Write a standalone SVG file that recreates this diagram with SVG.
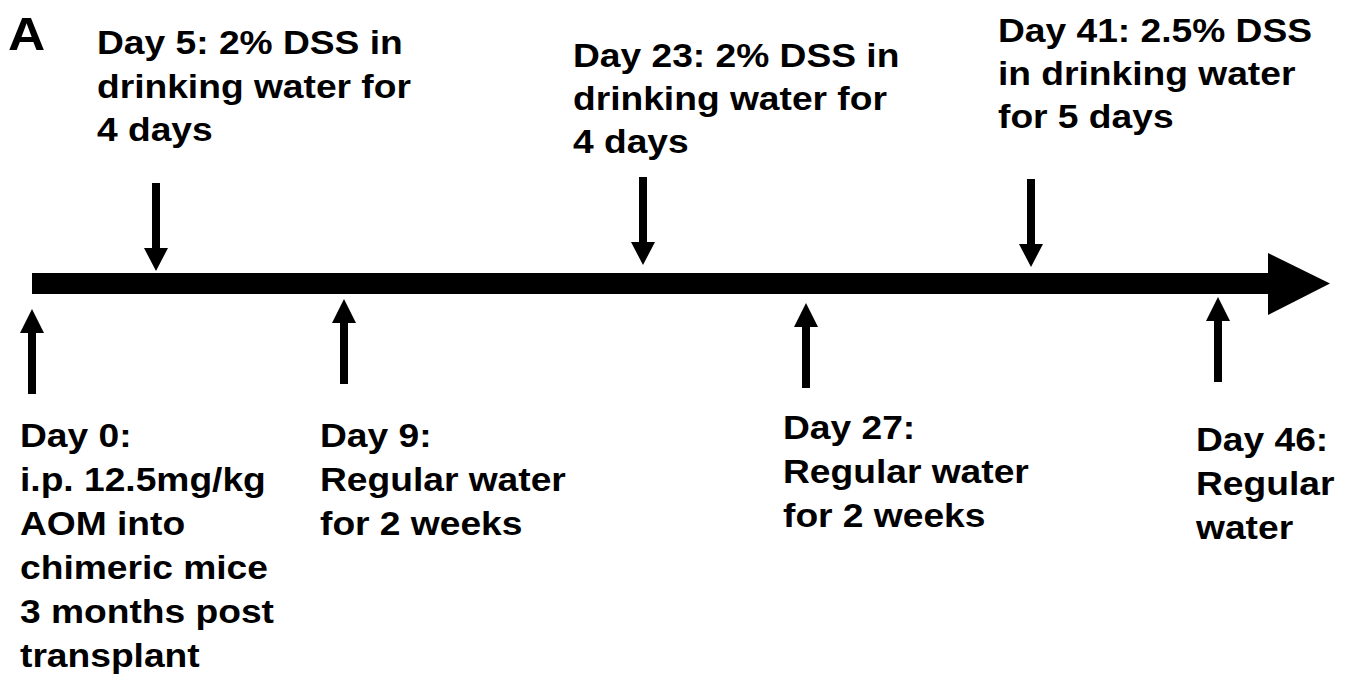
<svg xmlns="http://www.w3.org/2000/svg" width="1353" height="682" viewBox="0 0 1353 682">
<style>
text{font-family:"Liberation Sans",Arial,sans-serif;font-weight:bold;font-size:33.5px;fill:#000}
.lbl{font-size:46px}
</style>
<defs>
<path id="dn" d="M-4,0 H4 V65 H12 L0,88 L-12,65 H-4 Z"/>
<path id="up" d="M0,0 L12,24 H4 V85 H-4 V24 H-12 Z"/>
</defs>
<rect width="1353" height="682" fill="#fff"/>
<text class="lbl" transform="translate(8 0) scale(1.12 1)" x="0" y="50">A</text>
<g id="connectors" fill="#000">
<rect x="32" y="273" width="1238" height="21"/>
<polygon points="1268,253 1330,283.5 1268,315"/>
<use href="#dn" x="156" y="183"/>
<use href="#dn" x="643" y="177"/>
<use href="#dn" x="1031" y="179"/>
<use href="#up" x="32" y="309"/>
<use href="#up" x="344" y="299"/>
<use href="#up" x="806" y="303"/>
<use href="#up" x="1218" y="297"/>
</g>
<g id="day5"><text transform="translate(97 0) scale(1.11 1)"><tspan x="0" y="54">Day 5: 2% DSS in</tspan><tspan x="0" y="98">drinking water for</tspan><tspan x="0" y="141">4 days</tspan></text></g>
<g id="day23"><text transform="translate(573 0) scale(1.11 1)"><tspan x="0" y="67">Day 23: 2% DSS in</tspan><tspan x="0" y="110">drinking water for</tspan><tspan x="0" y="153">4 days</tspan></text></g>
<g id="day41"><text transform="translate(998 0) scale(1.11 1)"><tspan x="0" y="42">Day 41: 2.5% DSS</tspan><tspan x="0" y="85">in drinking water</tspan><tspan x="0" y="128">for 5 days</tspan></text></g>
<g id="day0"><text transform="translate(20 0) scale(1.11 1)"><tspan x="0" y="447">Day 0:</tspan><tspan x="0" y="491">i.p. 12.5mg/kg</tspan><tspan x="0" y="535">AOM into</tspan><tspan x="0" y="579">chimeric mice</tspan><tspan x="0" y="623">3 months post</tspan><tspan x="0" y="667">transplant</tspan></text></g>
<g id="day9"><text transform="translate(320 0) scale(1.11 1)"><tspan x="0" y="447">Day 9:</tspan><tspan x="0" y="491">Regular water</tspan><tspan x="0" y="535">for 2 weeks</tspan></text></g>
<g id="day27"><text transform="translate(783 0) scale(1.11 1)"><tspan x="0" y="439">Day 27:</tspan><tspan x="0" y="483">Regular water</tspan><tspan x="0" y="527">for 2 weeks</tspan></text></g>
<g id="day46"><text transform="translate(1196 0) scale(1.11 1)"><tspan x="0" y="451">Day 46:</tspan><tspan x="0" y="495">Regular</tspan><tspan x="0" y="539">water</tspan></text></g>
</svg>
